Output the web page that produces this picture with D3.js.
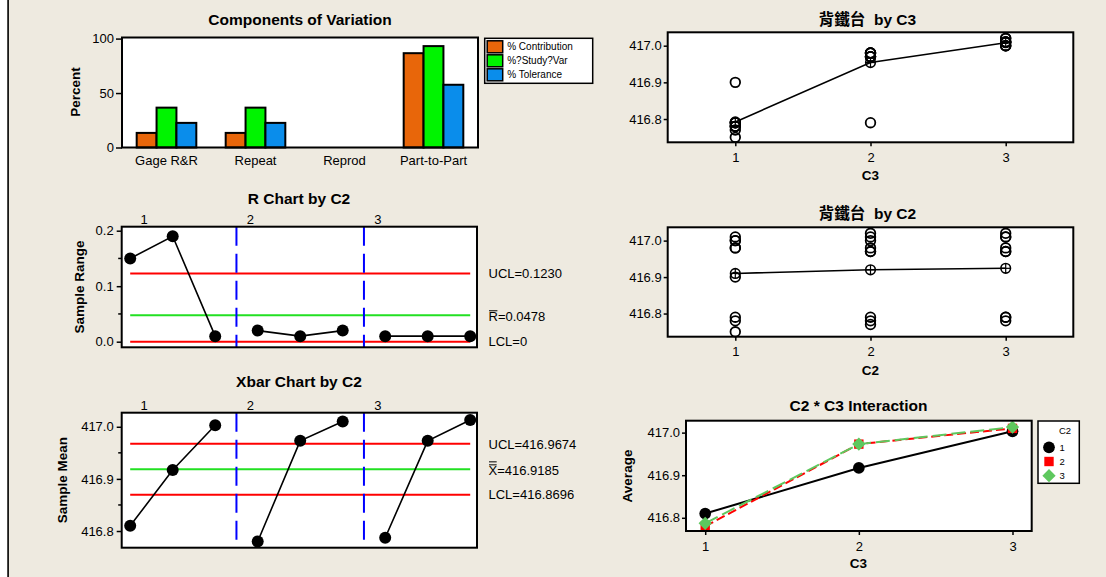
<!DOCTYPE html>
<html>
<head>
<meta charset="utf-8">
<script src="https://cdn.jsdelivr.net/npm/d3@7"></script>
<style>
  html, body { margin: 0; padding: 0; background: #fff; }
  svg { display: block; }
  text { font-family: "Liberation Sans", Arial, "Noto Sans CJK TC", sans-serif; fill: #000; }
</style>
</head>
<body>
<svg id="chart" width="1106" height="577"></svg>
<script>
// ---- Components of variation ----
const categories = ["Gage R&R", "Repeat", "Reprod", "Part-to-Part"];
const componentSeries = ["% Contribution", "%?Study?Var", "% Tolerance"];
const pctContribution = [13.4, 13.4, 0, 86.6];
const pctStudyVar = [36.6, 36.6, 0, 93.1];
const pctTolerance = [22.6, 22.6, 0, 57.6];
const percentTicks = [0, 50, 100];

// ---- Subgroups: operator (C2) x part (C3), 3 readings each ----
const operatorLevels = [1, 2, 3];
const partLevels = [1, 2, 3];
const subgroupOperator = [1, 1, 1, 2, 2, 2, 3, 3, 3];
const subgroupPart = [1, 2, 3, 1, 2, 3, 1, 2, 3];
const readings = [
  [416.75, 416.78, 416.90],
  [416.79, 416.98, 416.98],
  [417.00, 417.00, 417.01],
  [416.77, 416.78, 416.79],
  [416.97, 416.97, 416.98],
  [417.00, 417.01, 417.02],
  [416.78, 416.79, 416.79],
  [416.97, 416.97, 416.98],
  [417.01, 417.01, 417.02]
];

// R chart
const sampleRanges = [0.15, 0.19, 0.01, 0.02, 0.01, 0.02, 0.01, 0.01, 0.01];
const rUCL = 0.1230, rBar = 0.0478, rLCL = 0;
const rTicks = [0, 0.1, 0.2];
const rMinorTicks = [0.05, 0.15];

// Xbar chart
const sampleMeans = [416.810, 416.917, 417.003, 416.780, 416.973, 417.010, 416.787, 416.973, 417.013];
const xUCL = 416.9674, xBarBar = 416.9185, xLCL = 416.8696;
const meanTicks = [416.8, 416.9, 417.0];
const meanMinorTicks = [416.85, 416.95];

// Means by part and by operator
const meansByPart = [416.792, 416.954, 417.008];
const meansByOperator = [416.910, 416.920, 416.924];
const valueTicks = [416.8, 416.9, 417.0];

// Operator * part interaction
const interactionOp1 = [416.810, 416.917, 417.003];
const interactionOp2 = [416.780, 416.973, 417.010];
const interactionOp3 = [416.787, 416.973, 417.013];
const averageTicks = [416.8, 416.9, 417.0];

// -------------------------------------------------------------
const svg = d3.select("#chart");
const BG = "#EEEAE0";

svg.append("rect").attr("width", 1106).attr("height", 577).attr("fill", BG);
svg.append("rect").attr("width", 7.4).attr("height", 577).attr("fill", "#fff");
svg.append("line").attr("x1", 8.1).attr("x2", 8.1).attr("y1", 0).attr("y2", 577)
  .attr("stroke", "#000").attr("stroke-width", 1.6);

function plotArea(box) {
  svg.append("rect").attr("x", box.l).attr("y", box.t)
    .attr("width", box.r - box.l).attr("height", box.b - box.t).attr("fill", "#fff");
}
function plotBorder(box) {
  svg.append("rect").attr("x", box.l).attr("y", box.t)
    .attr("width", box.r - box.l).attr("height", box.b - box.t)
    .attr("fill", "none").attr("stroke", "#000").attr("stroke-width", 2);
}
function chartTitle(txt, cx, cy) {
  svg.append("text").attr("x", cx).attr("y", cy).attr("dy", "0.35em")
    .attr("text-anchor", "middle").attr("font-weight", "bold").attr("font-size", 15.5)
    .style("white-space", "pre").text(txt);
}
function axisTitleY(txt, cx, cy) {
  svg.append("text").attr("transform", `translate(${cx},${cy}) rotate(-90)`)
    .attr("dy", "0.35em").attr("text-anchor", "middle")
    .attr("font-weight", "bold").attr("font-size", 13.5).text(txt);
}
function axisTitleX(txt, cx, cy) {
  svg.append("text").attr("x", cx).attr("y", cy).attr("dy", "0.35em")
    .attr("text-anchor", "middle").attr("font-weight", "bold").attr("font-size", 13.5).text(txt);
}
function styleAxis(g) {
  g.attr("font-size", 13).attr("font-family", null);
  g.select(".domain").remove();
  g.selectAll(".tick line").attr("stroke", "#000").attr("stroke-width", 1.5);
  g.selectAll(".tick text").attr("fill", "#000");
}
function minorTicksLeft(box, y, values) {
  svg.append("g").selectAll("line").data(values).join("line")
    .attr("x1", box.l - 3.5).attr("x2", box.l)
    .attr("y1", d => y(d)).attr("y2", d => y(d))
    .attr("stroke", "#000").attr("stroke-width", 1.5);
}

// ================= Components of Variation =================
const compBox = { l: 122, t: 37.5, r: 478, b: 147.5 };
const xComp = d3.scaleBand().domain(categories).range([compBox.l, compBox.r])
  .paddingInner(0.33).paddingOuter(0.165);
const xSeries = d3.scaleBand().domain(componentSeries).range([0, xComp.bandwidth()]);
const yComp = d3.scaleLinear().domain([0, 101]).range([compBox.b, compBox.t]);
const compValues = [pctContribution, pctStudyVar, pctTolerance];
const compColors = ["#E8660A", "#00F400", "#0A8DEB"];

plotArea(compBox);
componentSeries.forEach((name, s) => {
  const rows = categories.map((c, i) => ({ c, v: compValues[s][i] })).filter(d => d.v > 0);
  svg.append("g").selectAll("rect").data(rows).join("rect")
    .attr("x", d => xComp(d.c) + xSeries(name))
    .attr("y", d => yComp(d.v))
    .attr("width", xSeries.bandwidth())
    .attr("height", d => yComp(0) - yComp(d.v))
    .attr("fill", compColors[s]).attr("stroke", "#000").attr("stroke-width", 2);
});
plotBorder(compBox);
svg.append("g").attr("transform", `translate(${compBox.l},0)`)
  .call(d3.axisLeft(yComp).tickValues(percentTicks).tickFormat(d3.format("d")).tickSize(6).tickPadding(2))
  .call(styleAxis);
svg.append("g").attr("transform", `translate(0,${compBox.b})`)
  .call(d3.axisBottom(xComp).tickSize(0).tickPadding(8))
  .call(styleAxis);
chartTitle("Components of Variation", 300, 19.5);
axisTitleY("Percent", 75, 92);

// legend
const legBox = { l: 484.7, t: 38.3, r: 592.7, b: 83.3 };
svg.append("rect").attr("x", legBox.l).attr("y", legBox.t)
  .attr("width", legBox.r - legBox.l).attr("height", legBox.b - legBox.t)
  .attr("fill", "#fff").attr("stroke", "#000").attr("stroke-width", 1.5);
const legRow = d3.scaleBand().domain(componentSeries).range([legBox.t + 1.5, legBox.b - 1.5]);
const legItems = svg.append("g").selectAll("g").data(componentSeries).join("g")
  .attr("transform", d => `translate(${legBox.l + 2.5},${legRow(d)})`);
legItems.append("rect").attr("x", 0).attr("y", 1).attr("width", 15.5)
  .attr("height", legRow.bandwidth() - 2)
  .attr("fill", (d, i) => compColors[i]).attr("stroke", "#000").attr("stroke-width", 1.5);
legItems.append("text").attr("x", 20).attr("y", legRow.bandwidth() / 2).attr("dy", "0.35em")
  .attr("font-size", 10).text(d => d);

// ================= control charts (R and Xbar) =================
const sampleIdx = sampleRanges.map((d, i) => i + 1);
const xSample = d3.scaleLinear().domain([0.8, 9.16]).range([121.7, 477]);

// group boundaries where the operator changes
const boundaries = [];
for (let i = 1; i < subgroupOperator.length; i++) {
  if (subgroupOperator[i] !== subgroupOperator[i - 1]) boundaries.push(i + 0.5);
}
const groupStarts = operatorLevels.map(op => subgroupOperator.indexOf(op) + 1);

function barredLabel(x, y, letter, rest, bars) {
  const t = svg.append("text").attr("x", x).attr("y", y).attr("font-size", 13);
  t.append("tspan").text(letter);
  t.append("tspan").text(rest);
  const w = t.node().getSubStringLength(0, 1);
  for (let k = 0; k < bars; k++) {
    const yy = y - 10.6 - k * 3;
    svg.append("line").attr("x1", x + 0.5).attr("x2", x + w - 0.5)
      .attr("y1", yy).attr("y2", yy).attr("stroke", "#000").attr("stroke-width", 1);
  }
}

function controlChart(box, y, values, ucl, center, lcl, labels, ticks, minor, fmt, titleTxt, titleY, yTitleTxt, yTitleX) {
  plotArea(box);
  // limit lines
  const x1 = xSample(1), x2 = xSample(sampleIdx.length);
  [[ucl, "#FF0000"], [center, "#22E022"], [lcl, "#FF0000"]].forEach(([v, c]) => {
    svg.append("line").attr("x1", x1).attr("x2", x2).attr("y1", y(v)).attr("y2", y(v))
      .attr("stroke", c).attr("stroke-width", 2);
  });
  // operator boundaries
  svg.append("g").selectAll("line").data(boundaries).join("line")
    .attr("x1", d => xSample(d)).attr("x2", d => xSample(d))
    .attr("y1", box.t).attr("y2", box.b)
    .attr("stroke", "#0000FF").attr("stroke-width", 2).attr("stroke-dasharray", "19,8");
  // points joined within each operator
  const line = d3.line().x(d => xSample(d.i)).y(d => y(d.v));
  operatorLevels.forEach(op => {
    const pts = values.map((v, k) => ({ i: k + 1, v, op: subgroupOperator[k] })).filter(d => d.op === op);
    svg.append("path").datum(pts).attr("d", line).attr("fill", "none")
      .attr("stroke", "#000").attr("stroke-width", 1.6);
  });
  svg.append("g").selectAll("circle").data(values).join("circle")
    .attr("cx", (d, k) => xSample(k + 1)).attr("cy", d => y(d)).attr("r", 6).attr("fill", "#000");
  plotBorder(box);
  svg.append("g").attr("transform", `translate(${box.l},0)`)
    .call(d3.axisLeft(y).tickValues(ticks).tickFormat(d3.format(fmt)).tickSize(5).tickPadding(3))
    .call(styleAxis);
  minorTicksLeft(box, y, minor);
  // operator labels above the plot
  svg.append("g").selectAll("text").data(operatorLevels).join("text")
    .attr("x", (op, j) => Math.max(xSample(groupStarts[j] - 0.5), xSample(1)) + 14)
    .attr("y", box.t - 3).attr("text-anchor", "middle").attr("font-size", 13).text(d => d);
  // limit labels
  const lx = box.r + 11.5;
  svg.append("text").attr("x", lx).attr("y", y(ucl) + 5).attr("font-size", 13).text(labels[0]);
  barredLabel(lx, y(center) + 6.2, labels[1][0], labels[1][1], labels[1][2]);
  svg.append("text").attr("x", lx).attr("y", y(lcl) + 4.6).attr("font-size", 13).text(labels[2]);
  chartTitle(titleTxt, 299, titleY);
  axisTitleY(yTitleTxt, yTitleX, (box.t + box.b) / 2);
}

const rBox = { l: 121.7, t: 226.7, r: 477, b: 347.3 };
const yR = d3.scaleLinear().domain([-0.0101, 0.2072]).range([rBox.b, rBox.t]);
controlChart(rBox, yR, sampleRanges, rUCL, rBar, rLCL,
  ["UCL=" + d3.format(".4f")(rUCL), ["R", "=" + d3.format(".4f")(rBar), 1], "LCL=" + rLCL],
  rTicks, rMinorTicks, ".1f", "R Chart by C2", 198.5, "Sample Range", 79);

const xbBox = { l: 121.7, t: 412.7, r: 477, b: 547.7 };
const yXb = d3.scaleLinear().domain([416.768, 417.027]).range([xbBox.b, xbBox.t]);
controlChart(xbBox, yXb, sampleMeans, xUCL, xBarBar, xLCL,
  ["UCL=" + d3.format(".4f")(xUCL), ["X", "=" + d3.format(".4f")(xBarBar), 2], "LCL=" + d3.format(".4f")(xLCL)],
  meanTicks, meanMinorTicks, ".1f", "Xbar Chart by C2", 382, "Sample Mean", 62.5);

// ================= individual readings by factor =================
function meanMarker(g, cx, cy) {
  g.append("circle").attr("cx", cx).attr("cy", cy).attr("r", 4.8)
    .attr("fill", "none").attr("stroke", "#000").attr("stroke-width", 1.6);
  g.append("line").attr("x1", cx - 4.8).attr("x2", cx + 4.8).attr("y1", cy).attr("y2", cy)
    .attr("stroke", "#000").attr("stroke-width", 1.2);
  g.append("line").attr("x1", cx).attr("x2", cx).attr("y1", cy - 4.8).attr("y2", cy + 4.8)
    .attr("stroke", "#000").attr("stroke-width", 1.2);
}

function readingsPanel(box, factorOfSubgroup, levels, means, titleTxt, titleY, xTitleTxt, xTitleY) {
  const x = d3.scaleLinear().domain([0.5, 3.5]).range([box.l, box.r]);
  const y = d3.scaleLinear().domain([416.7365, 417.0365]).range([box.b, box.t]);
  plotArea(box);
  const pts = [];
  readings.forEach((grp, k) => grp.forEach(v => pts.push({ f: factorOfSubgroup[k], v })));
  const g = svg.append("g");
  g.selectAll("circle.pt").data(pts).join("circle").attr("class", "pt")
    .attr("cx", d => x(d.f)).attr("cy", d => y(d.v)).attr("r", 4.8)
    .attr("fill", "none").attr("stroke", "#000").attr("stroke-width", 1.8);
  g.append("path").datum(levels.map((l, i) => [l, means[i]]))
    .attr("d", d3.line().x(d => x(d[0])).y(d => y(d[1])))
    .attr("fill", "none").attr("stroke", "#000").attr("stroke-width", 1.6);
  levels.forEach((l, i) => meanMarker(g, x(l), y(means[i])));
  plotBorder(box);
  svg.append("g").attr("transform", `translate(${box.l},0)`)
    .call(d3.axisLeft(y).tickValues(valueTicks).tickFormat(d3.format(".1f")).tickSize(4).tickPadding(2))
    .call(styleAxis);
  svg.append("g").attr("transform", `translate(0,${box.b})`)
    .call(d3.axisBottom(x).tickValues(levels).tickFormat(d3.format("d")).tickSize(4).tickPadding(6))
    .call(styleAxis);
  chartTitle(titleTxt, 867.5, titleY);
  axisTitleX(xTitleTxt, (box.l + box.r) / 2, xTitleY);
}

readingsPanel({ l: 667.7, t: 32.3, r: 1073.3, b: 142.3 }, subgroupPart, partLevels, meansByPart,
  "背鐵台  by C3", 19.5, "C3", 175);
readingsPanel({ l: 667.7, t: 227.3, r: 1073.3, b: 336.7 }, subgroupOperator, operatorLevels, meansByOperator,
  "背鐵台  by C2", 214, "C2", 370);

// ================= C2 * C3 interaction =================
const intBox = { l: 686, t: 420.7, r: 1031.7, b: 531 };
const xInt = d3.scaleLinear().domain([0.875, 3.125]).range([intBox.l, intBox.r]);
const yInt = d3.scaleLinear().domain([416.769, 417.028]).range([intBox.b, intBox.t]);
const interactionSeries = [interactionOp1, interactionOp2, interactionOp3];
const intColors = ["#000000", "#FF0000", "#5EC85E"];
const intDash = [null, "9,4", "14,5"];
// rotated-square diamond (equal width and height)
const squareDiamond = {
  draw(ctx, size) {
    const r = Math.sqrt(size / 2);
    ctx.moveTo(0, -r); ctx.lineTo(r, 0); ctx.lineTo(0, r); ctx.lineTo(-r, 0); ctx.closePath();
  }
};
const symbols = [d3.symbolCircle, d3.symbolSquare, squareDiamond];
const symbolSizes = [108, 88, 88];

plotArea(intBox);
interactionSeries.forEach((vals, s) => {
  svg.append("path").datum(vals.map((v, i) => [partLevels[i], v]))
    .attr("d", d3.line().x(d => xInt(d[0])).y(d => yInt(d[1])))
    .attr("fill", "none").attr("stroke", intColors[s]).attr("stroke-width", 2)
    .attr("stroke-dasharray", intDash[s]);
});
interactionSeries.forEach((vals, s) => {
  svg.append("g").selectAll("path").data(vals).join("path")
    .attr("transform", (v, i) => `translate(${xInt(partLevels[i])},${yInt(v)})`)
    .attr("d", d3.symbol().type(symbols[s]).size(symbolSizes[s])())
    .attr("fill", intColors[s]);
});
plotBorder(intBox);
svg.append("g").attr("transform", `translate(${intBox.l},0)`)
  .call(d3.axisLeft(yInt).tickValues(averageTicks).tickFormat(d3.format(".1f")).tickSize(4).tickPadding(2))
  .call(styleAxis);
svg.append("g").attr("transform", `translate(0,${intBox.b})`)
  .call(d3.axisBottom(xInt).tickValues(partLevels).tickFormat(d3.format("d")).tickSize(4).tickPadding(7))
  .call(styleAxis);
chartTitle("C2 * C3 Interaction", 858.5, 406);
axisTitleY("Average", 627.5, 476);
axisTitleX("C3", 858.5, 563);

// legend
const intLeg = { l: 1038, t: 421, r: 1079.3, b: 483.3 };
svg.append("rect").attr("x", intLeg.l).attr("y", intLeg.t)
  .attr("width", intLeg.r - intLeg.l).attr("height", intLeg.b - intLeg.t)
  .attr("fill", "#fff").attr("stroke", "#000").attr("stroke-width", 1.5);
svg.append("text").attr("x", 1065).attr("y", 431).attr("dy", "0.35em")
  .attr("text-anchor", "middle").attr("font-size", 9.5).text("C2");
const legY = d3.scalePoint().domain(operatorLevels).range([447.3, 475.7]);
operatorLevels.forEach((op, s) => {
  svg.append("path").attr("transform", `translate(1049,${legY(op)})`)
    .attr("d", d3.symbol().type(symbols[s]).size(symbolSizes[s])())
    .attr("fill", intColors[s]);
  svg.append("text").attr("x", 1059.5).attr("y", legY(op)).attr("dy", "0.38em")
    .attr("font-size", 9.5).text(op);
});
</script>
</body>
</html>
